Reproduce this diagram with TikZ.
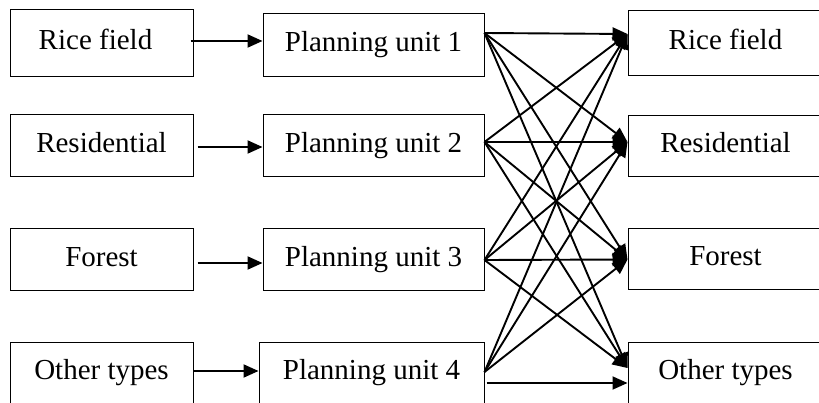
\documentclass[tikz,border=0pt]{standalone}
\usepackage{fontspec}
\setmainfont{Liberation Serif}
\usetikzlibrary{arrows.meta}
\begin{document}
\begin{tikzpicture}[x=1pt,y=-1pt,
  box/.style={draw, line width=1pt, inner sep=0pt,
    font=\fontsize{29}{34}\selectfont, text height=20pt, text depth=7pt},
  leftbox/.style={box, minimum width=183pt, minimum height=62pt},
  unitbox/.style={box, minimum width=221pt, minimum height=62pt},
  rightbox/.style={box, minimum width=195pt, minimum height=62pt},
  feed/.style={line width=2pt, -{Triangle[length=15pt,width=13pt]}},
  link/.style={line width=1.9pt, -{Triangle[length=15pt,width=13pt]}}]
\useasboundingbox (0,0) rectangle (819,403);
\clip (0,0) rectangle (819,403);

% land-use classes (left column)
\node[leftbox, minimum height=67pt] (l1) at (101.5,43.5) {\hspace*{-12pt}Rice field};
\node[leftbox] (l2) at (101.5,146) {Residential};
\node[leftbox] (l3) at (101.5,260) {Forest};
\node[leftbox] (l4) at (101.5,373) {Other types};

% planning units (middle column)
\node[unitbox, minimum height=63pt] (p1) at (373.5,45.5) {Planning unit 1};
\node[unitbox] (p2) at (373.5,146) {Planning unit 2};
\node[unitbox] (p3) at (373.5,260) {Planning unit 3};
\node[unitbox, minimum width=225pt] (p4) at (371.5,373) {Planning unit 4};

% land-use classes (right column)
\node[rightbox, minimum height=65pt] (r1) at (725.5,43.5) {Rice field};
\node[rightbox, minimum height=61pt] (r2) at (725.5,146.5) {Residential};
\node[rightbox, minimum height=61pt] (r3) at (725.5,259.5) {Forest};
\node[rightbox] (r4) at (725.5,373) {Other types};

% classes into planning units
\draw[feed] ([xshift=-3pt,yshift=2.5pt]l1.east) -- ([yshift=4.5pt]p1.west);
\draw[feed] ([xshift=4pt,yshift=-1pt]l2.east) -- ([yshift=-1pt]p2.west);
\draw[feed] ([xshift=4pt,yshift=-3pt]l3.east) -- ([yshift=-3pt]p3.west);
\draw[feed] ([yshift=2pt]l4.east) -- ([yshift=2pt]p4.west);

% exit and entry points of the transitions
\coordinate (s1) at ([yshift=12.5pt]p1.east);
\coordinate (s2) at ([yshift=4pt]p2.east);
\coordinate (s3) at (p3.east);
\coordinate (s4) at ([yshift=1pt]p4.east);
\coordinate (t1) at ([yshift=9.5pt]r1.west);
\coordinate (t2) at ([yshift=4.5pt]r2.west);
\coordinate (t3) at (r3.west);
\coordinate (t4) at ([yshift=5pt]r4.west);

% transitions from each planning unit to each class
\foreach \s in {1,2,3} {
  \foreach \t in {1,2,3,4} {
    \draw[link] (s\s) -- (t\t);
  }
}
\foreach \t in {1,2,3} {
  \draw[link] (s4) -- (t\t);
}
\draw[link] ([xshift=2pt,yshift=-10pt]p4.east) -- ([yshift=-10pt]r4.west);
\end{tikzpicture}
\end{document}
